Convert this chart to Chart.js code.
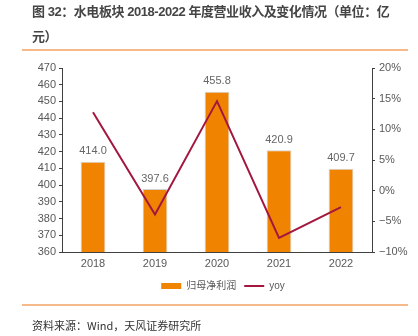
<!DOCTYPE html>
<html>
<head>
<meta charset="utf-8">
<script src="https://cdn.jsdelivr.net/npm/chart.js@4"></script>
<style>
  html, body { margin: 0; padding: 0; background: #fff; }
  body { width: 418px; height: 336px; position: relative; overflow: hidden; font-family: "Noto Sans CJK SC", "Liberation Sans", sans-serif; }
  #wrap { position: absolute; left: 0; top: 0; width: 418px; height: 336px; }
  .title { position: absolute; left: 32px; color: #454545; font-size: 13px; font-weight: bold; letter-spacing: -0.45px; white-space: nowrap; line-height: 16px; font-family: "Liberation Sans", "Noto Sans CJK SC", sans-serif; }
  .rule { position: absolute; left: 22px; width: 386px; height: 2px; background: #F6B989; }
  .src { position: absolute; left: 32px; top: 318px; color: #333; font-size: 11px; white-space: nowrap; line-height: 14px; }
</style>
</head>
<body>
<div id="wrap"><canvas id="c" width="418" height="336"></canvas></div>
<div class="title" style="top:4px">图 32：水电板块 2018-2022 年度营业收入及变化情况（单位：亿</div>
<div class="title" style="top:29px">元）</div>
<div class="rule" style="top:49px"></div>
<div class="rule" style="top:304px"></div>
<div class="src">资料来源：Wind，天风证券研究所</div>
<script>
const categories = ['2018', '2019', '2020', '2021', '2022'];
const revenue = [414.0, 397.6, 455.8, 420.9, 409.7];
const yoy = [12.8, -3.9, 14.6, -7.7, -2.7];
const leftTicks = [360, 470, 10];
const rightTicks = [-10, 20, 5];

const ORANGE = '#F08300';
const CRIMSON = '#A3173F';
const TICK = '#595959';
const AXIS = '#404040';

const barLabels = {
  id: 'barLabels',
  afterDatasetsDraw(chart) {
    const meta = chart.getDatasetMeta(0);
    const ctx = chart.ctx;
    ctx.save();
    ctx.font = '11px "Liberation Sans", Arial, sans-serif';
    ctx.fillStyle = '#666';
    ctx.textAlign = 'center';
    ctx.textBaseline = 'bottom';
    meta.data.forEach((el, i) => {
      ctx.fillText(revenue[i].toFixed(1), el.x, el.y - 5);
    });
    ctx.restore();
  }
};

const legendShift = {
  id: 'legendShift',
  afterLayout(chart) {
    if (chart.legend) { chart.legend.left += 14; chart.legend.right += 14; }
  }
};

new Chart(document.getElementById('c'), {
  data: {
    labels: categories,
    datasets: [
      {
        type: 'bar', label: '归母净利润', data: revenue, yAxisID: 'y',
        backgroundColor: ORANGE, borderColor: 'rgba(205,205,205,0.9)', borderWidth: 1,
        barPercentage: 0.4, categoryPercentage: 1.0, order: 1
      },
      {
        type: 'line', label: 'yoy', data: yoy, yAxisID: 'y1',
        borderColor: CRIMSON, backgroundColor: CRIMSON, borderWidth: 2,
        pointRadius: 0, pointBorderWidth: 2, pointBorderColor: CRIMSON, tension: 0, order: 0
      }
    ]
  },
  options: {
    responsive: false, animation: false, events: [],
    layout: { padding: { left: 0, right: 0, top: 68, bottom: 35 } },
    scales: {
      x: {
        grid: { display: false, drawTicks: false },
        border: { display: true, color: AXIS, width: 1 },
        ticks: { color: TICK, padding: 5, font: { size: 11, family: '"Liberation Sans", Arial, sans-serif' } },
        afterFit(s) { s.height = 21; }
      },
      y: {
        position: 'left', min: leftTicks[0], max: leftTicks[1],
        grid: { drawOnChartArea: false, drawTicks: true, tickLength: 3, color: AXIS },
        border: { display: true, color: AXIS, width: 1 },
        ticks: { stepSize: leftTicks[2], color: TICK, padding: 3, font: { size: 11, family: '"Liberation Sans", Arial, sans-serif' } },
        afterFit(s) { s.width = 62; }
      },
      y1: {
        position: 'right', min: rightTicks[0], max: rightTicks[1],
        grid: { drawOnChartArea: false, drawTicks: true, tickLength: 3, color: AXIS },
        border: { display: true, color: AXIS, width: 1 },
        ticks: {
          stepSize: rightTicks[2], color: TICK, padding: 4,
          font: { size: 11, family: '"Liberation Sans", Arial, sans-serif' },
          callback: v => (v < 0 ? '\u2212' + Math.abs(v) : v) + '%'
        },
        afterFit(s) { s.width = 46; }
      }
    },
    plugins: {
      tooltip: { enabled: false },
      legend: {
        position: 'bottom',
        labels: {
          color: TICK, font: { size: 10, family: '"Liberation Sans", "Noto Sans CJK SC", sans-serif' },
          usePointStyle: true, pointStyleWidth: 20, boxHeight: 6, padding: 8,
          generateLabels(chart) {
            const items = Chart.defaults.plugins.legend.labels.generateLabels(chart);
            items.sort((a, b) => a.datasetIndex - b.datasetIndex);
            items.forEach(it => {
              if (it.datasetIndex === 0) {
                it.pointStyle = 'rect'; it.fillStyle = ORANGE; it.strokeStyle = ORANGE; it.lineWidth = 0;
              } else {
                it.pointStyle = 'line'; it.strokeStyle = CRIMSON; it.lineWidth = 2;
              }
              it.fontColor = TICK;
            });
            return items;
          }
        }
      }
    }
  },
  plugins: [barLabels, legendShift]
});
</script>
</body>
</html>
